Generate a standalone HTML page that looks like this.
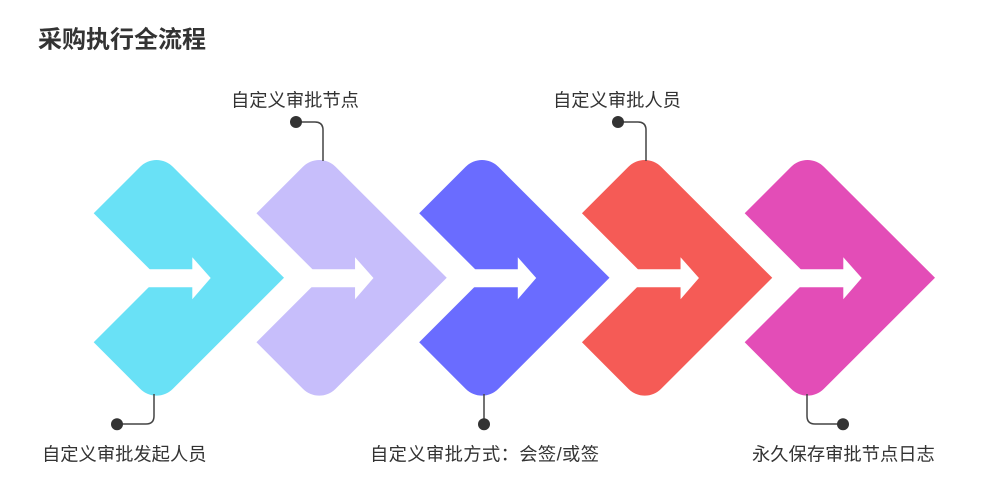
<!DOCTYPE html>
<html>
<head>
<meta charset="utf-8">
<style>
  html, body { margin: 0; padding: 0; background: #ffffff; }
  body { width: 1000px; height: 501px; overflow: hidden; }
  svg { display: block; }
  text { font-family: "Liberation Sans", "Noto Sans CJK SC", sans-serif; fill: #333333; }
</style>
</head>
<body>
<svg width="1000" height="501" viewBox="0 0 1000 501" xmlns="http://www.w3.org/2000/svg">
  <defs>
    <path id="chev" d="M93.7 213.3 L140.2 166.8 A23 23 0 0 1 172.8 166.8 L284 277.8 L172.8 388.9 A23 23 0 0 1 140.2 388.9 L93.7 342.3 L158.2 277.8 Z"/>
    <path id="arr" d="M140 269.3 L192.3 269.3 L192.3 257.3 L210.7 278 L192.3 299.3 L192.3 287.3 L140 287.3 Z"/>
  </defs>

  <text x="38" y="40" font-size="24" font-weight="bold" dominant-baseline="central">采购执行全流程</text>

  <!-- shapes -->
  <g>
    <use href="#chev" fill="#69E1F6"/>
    <use href="#arr" fill="#ffffff"/>
  </g>
  <g transform="translate(162.75,0)">
    <use href="#chev" fill="#C7BEFB"/>
    <use href="#arr" fill="#ffffff"/>
  </g>
  <g transform="translate(325.5,0)">
    <use href="#chev" fill="#6A6CFF"/>
    <use href="#arr" fill="#ffffff"/>
  </g>
  <g transform="translate(488.25,0)">
    <use href="#chev" fill="#F55B56"/>
    <use href="#arr" fill="#ffffff"/>
  </g>
  <g transform="translate(651,0)">
    <use href="#chev" fill="#E34DB7"/>
    <use href="#arr" fill="#ffffff"/>
  </g>

  <!-- connectors -->
  <g fill="none" stroke="#444444" stroke-width="1.5">
    <path d="M296 122 H315 Q323 122 323 130 V161"/>
    <path d="M618 122 H638 Q646 122 646 130 V161"/>
    <path d="M154 394 V416 Q154 424 146 424 H117"/>
    <path d="M484 394 V424"/>
    <path d="M807 394 V416 Q807 424 815 424 H843"/>
  </g>
  <g fill="#333333">
    <circle cx="296" cy="122" r="6"/>
    <circle cx="618" cy="122" r="6"/>
    <circle cx="117" cy="424.3" r="6"/>
    <circle cx="484" cy="424.3" r="6"/>
    <circle cx="843" cy="424.3" r="6"/>
  </g>

  <!-- labels -->
  <g font-size="18.3">
    <text x="231" y="100" dominant-baseline="central">自定义审批节点</text>
    <text x="553" y="100" dominant-baseline="central">自定义审批人员</text>
    <text x="42" y="454" dominant-baseline="central">自定义审批发起人员</text>
    <text x="370" y="454" dominant-baseline="central" textLength="229" lengthAdjust="spacing">自定义审批方式：会签/或签</text>
    <text x="752" y="454" dominant-baseline="central">永久保存审批节点日志</text>
  </g>
</svg>
</body>
</html>
